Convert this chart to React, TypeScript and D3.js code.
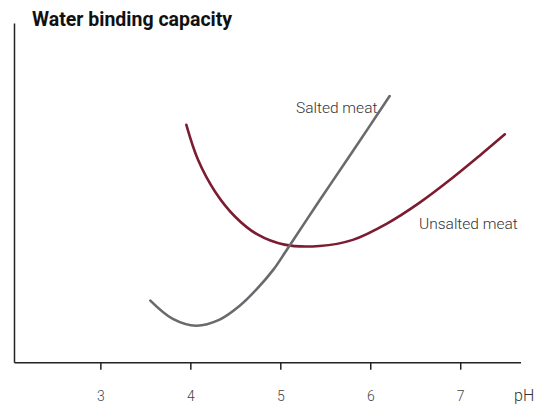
import * as d3 from "d3";

// pH values and water binding (arbitrary units, 0-100)
const saltedPH = [3.55, 3.8, 4.06, 4.32, 4.54, 4.73, 4.92, 5.06, 5.43, 5.8, 6.21];
const saltedWB = [18.3, 12.9, 10.9, 12.7, 16.7, 21.6, 27.5, 33.0, 47.8, 62.3, 78.6];

const unsaltedPH = [3.95, 4.08, 4.27, 4.49, 4.74, 5.04, 5.43, 5.8, 6.18, 6.54, 6.91, 7.21, 7.49];
const unsaltedWB = [70.1, 59.8, 50.4, 43.1, 37.8, 34.8, 34.4, 36.2, 41.0, 47.1, 54.5, 61.0, 67.3];

const phTicks = [3, 4, 5, 6, 7];

export default function App() {
  const width = 541;
  const height = 409;

  const x = d3.scaleLinear().domain([2.04, 7.67]).range([14.5, 521]);
  const y = d3.scaleLinear().domain([0, 100]).range([362.7, 23.4]);

  const line = d3
    .line<[number, number]>()
    .x((d) => x(d[0]))
    .y((d) => y(d[1]))
    .curve(d3.curveCatmullRom.alpha(0.5));

  const salted = saltedPH.map((p, i) => [p, saltedWB[i]] as [number, number]);
  const unsalted = unsaltedPH.map((p, i) => [p, unsaltedWB[i]] as [number, number]);

  const font = "Roboto, 'Open Sans', sans-serif";

  return (
    <svg
      width={width}
      height={height}
      style={{ position: "absolute", left: 0, top: 0, background: "#fff" }}
    >
      {/* axes */}
      <line x1={x.range()[0]} x2={x.range()[0]} y1={y(100)} y2={y(0)} stroke="#222" strokeWidth={1.5} />
      <line x1={x.range()[0]} x2={x.range()[1]} y1={y(0)} y2={y(0)} stroke="#222" strokeWidth={1.5} />
      {phTicks.map((t) => (
        <g key={t}>
          <line x1={x(t)} x2={x(t)} y1={y(0)} y2={y(0) + 7} stroke="#222" strokeWidth={1.5} />
          <text
            x={x(t)}
            y={400.5}
            textAnchor="middle"
            fontFamily={font}
            fontSize={14}
            fontWeight={300}
            fill="#444"
          >
            {t}
          </text>
        </g>
      ))}
      <text x={514} y={400.5} fontFamily={font} fontSize={16} fontWeight={300} fill="#333">
        pH
      </text>

      <text x={32} y={26} fontFamily={font} fontSize={19.5} fontWeight="bold" fill="#111">
        Water binding capacity
      </text>

      <path d={line(unsalted) ?? ""} fill="none" stroke="#7b1c30" strokeWidth={2.6} strokeLinecap="round" />
      <path d={line(salted) ?? ""} fill="none" stroke="#6a6a6e" strokeWidth={2.6} strokeLinecap="round" />

      <text x={296} y={113} fontFamily={font} fontSize={15.5} fontWeight={300} fill="#333">
        Salted meat
      </text>
      <text x={419} y={229} fontFamily={font} fontSize={15.5} fontWeight={300} fill="#333">
        Unsalted meat
      </text>
    </svg>
  );
}
